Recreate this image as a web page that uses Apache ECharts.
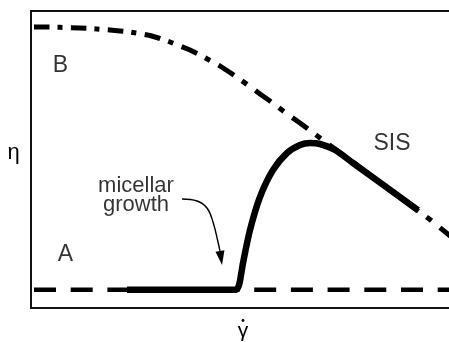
<!DOCTYPE html>
<html>
<head>
<meta charset="utf-8">
<script src="https://cdn.jsdelivr.net/npm/echarts@6.0.0/dist/echarts.min.js"></script>
<style>
  html, body { margin: 0; padding: 0; background: #fff; overflow: hidden; }
  #chart { width: 449px; height: 342px; }
</style>
</head>
<body>
<div id="chart"></div>
<script>
// Shear rate and viscosity in arbitrary units

// Curve B: shear-thinning viscosity
const curveBX = [0.71, 4.51, 6.89, 9.26, 11.64, 14.01, 16.39, 18.76, 21.14, 23.52, 25.89, 28.27, 30.64, 33.02, 35.39, 37.77, 40.14, 42.52, 44.89, 47.27, 49.64, 52.02, 54.39, 56.77, 59.14, 61.52, 63.90, 66.27, 68.65, 72.21, 75.77, 80.52, 85.27, 90.02, 94.77, 99.29, 100];
const curveBY = [94.61, 94.58, 94.51, 94.41, 94.28, 94.11, 93.87, 93.60, 93.30, 92.93, 92.42, 91.75, 90.74, 89.56, 88.22, 86.87, 85.19, 83.33, 81.48, 79.29, 76.94, 74.58, 72.05, 69.70, 67.17, 64.65, 62.29, 59.76, 57.24, 53.54, 49.83, 44.78, 39.73, 34.68, 29.80, 24.58, 23.74];

// Curve A: Newtonian baseline
const curveAX = [0.71, 100];
const curveAY = [6.16, 6.16];

// Shear-induced structure (SIS): micellar growth branch
const sisX = [22.80, 48.69, 49.41, 49.88, 50.36, 52.02, 54.39, 57.48, 60.81, 63.90, 66.27, 68.65, 72.21, 76.48, 91.92];
const sisY = [6.16, 6.16, 7.74, 11.11, 15.15, 26.26, 37.37, 46.46, 52.19, 54.88, 55.56, 55.22, 53.20, 48.82, 32.99];

// Annotation arrow path (last point is the tip)
const arrowX = [35.87, 39.43, 41.81, 43.23, 44.42, 44.89, 45.37];
const arrowY = [36.70, 36.03, 33.67, 28.96, 22.22, 19.19, 14.48];

// Text labels
const labelText = ['B', 'A', 'SIS', 'micellar\ngrowth'];
const labelX = [7.01, 8.19, 85.75, 24.94];
const labelY = [81.48, 17.85, 55.39, 37.95];
const labelSize = [23, 23, 23, 22];

// Axis extents
const X_MIN = 0, X_MAX = 100, Y_MIN = 0, Y_MAX = 100;

const pairs = (xs, ys) => xs.map((x, i) => [x, ys[i]]);
const FONT = '"Liberation Sans", Arial, Helvetica, sans-serif';
const bareAxis = () => ({
  axisLine: { show: false }, axisTick: { show: false },
  axisLabel: { show: false }, splitLine: { show: false }
});

// Dash-dot rhythm measured along the horizontal direction (px):
// a dash, then a short dot, repeating every DD_PERIOD
const DD_PERIOD = 36.9;
const DD_ON = [[0, 15.5], [23.5, 28.5]];

// Split a pixel polyline (sorted by x) into dash / dot pieces
function dashDotPieces(pts) {
  const x0 = pts[0][0];
  const xEnd = pts[pts.length - 1][0];
  const yAt = (x) => {
    for (let i = 0; i < pts.length - 1; i++) {
      const a = pts[i], b = pts[i + 1];
      if (x >= a[0] && x <= b[0]) {
        const t = (x - a[0]) / (b[0] - a[0] || 1);
        return a[1] + t * (b[1] - a[1]);
      }
    }
    return pts[pts.length - 1][1];
  };
  const pieces = [];
  for (let s = x0; s < xEnd; s += DD_PERIOD) {
    DD_ON.forEach(([a, b]) => {
      const xa = s + a;
      const xb = Math.min(s + b, xEnd);
      if (xa >= xEnd) return;
      const seg = [[xa, yAt(xa)]];
      pts.forEach((p) => { if (p[0] > xa && p[0] < xb) seg.push(p); });
      seg.push([xb, yAt(xb)]);
      pieces.push(seg);
    });
  }
  return pieces;
}

const chart = echarts.init(document.getElementById('chart'), null, { renderer: 'canvas' });

const frameStyle = { stroke: '#111', lineWidth: 2 };

const option = {
  animation: false,
  backgroundColor: '#fff',
  // plot area runs just past the right edge of the window
  grid: { left: 31, right: -3, top: 11, bottom: 34, show: false, outerBoundsMode: 'none' },
  xAxis: Object.assign({ type: 'value', min: X_MIN, max: X_MAX }, bareAxis()),
  yAxis: Object.assign({ type: 'value', min: Y_MIN, max: Y_MAX }, bareAxis()),
  graphic: [
    {
      type: 'text', x: 13.5, y: 153,
      style: { text: 'η', font: '22px ' + FONT, fill: '#000', align: 'center', verticalAlign: 'middle' }
    },
    {
      type: 'text', x: 243, y: 331,
      style: { text: 'γ', font: '21px ' + FONT, fill: '#000', align: 'center', verticalAlign: 'middle' }
    },
    {
      type: 'circle', shape: { cx: 243, cy: 320.5, r: 1.4 },
      style: { fill: '#000' }
    }
  ],
  series: [
    {
      // open frame: left, top and bottom edges of the plot
      name: 'frame', type: 'custom', data: [0], silent: true, z: 1, clip: false,
      renderItem: (params, api) => {
        const bl = api.coord([X_MIN, Y_MIN]);
        const tl = api.coord([X_MIN, Y_MAX]);
        const tr = api.coord([X_MAX, Y_MAX]);
        const br = api.coord([X_MAX, Y_MIN]);
        return {
          type: 'group',
          children: [
            { type: 'line', shape: { x1: tl[0], y1: tl[1] - 1, x2: bl[0], y2: bl[1] + 1 }, style: frameStyle },
            { type: 'line', shape: { x1: tl[0], y1: tl[1], x2: tr[0], y2: tr[1] }, style: frameStyle },
            { type: 'line', shape: { x1: bl[0], y1: bl[1], x2: br[0], y2: br[1] }, style: frameStyle }
          ]
        };
      }
    },
    {
      name: 'B', type: 'custom', data: [0], silent: true, z: 2, clip: false,
      renderItem: (params, api) => {
        const pts = curveBX.map((x, i) => api.coord([x, curveBY[i]]));
        return {
          type: 'group',
          children: dashDotPieces(pts).map((seg) => ({
            type: 'polyline',
            shape: { points: seg },
            style: { stroke: '#000', lineWidth: 5, lineCap: 'butt', lineJoin: 'round', fill: null }
          }))
        };
      }
    },
    {
      name: 'A', type: 'line', data: pairs(curveAX, curveAY),
      showSymbol: false, silent: true,
      lineStyle: { color: '#000', width: 4.5, type: [22, 14.7], cap: 'butt' },
      z: 2
    },
    {
      name: 'SIS', type: 'line', data: pairs(sisX, sisY),
      smooth: 0.3, showSymbol: false, silent: true,
      lineStyle: { color: '#000', width: 6.5, type: 'solid', cap: 'butt', join: 'round' },
      z: 3
    },
    {
      name: 'arrow', type: 'custom', data: [0], silent: true, z: 4,
      renderItem: (params, api) => {
        const pts = arrowX.map((x, i) => api.coord([x, arrowY[i]]));
        const tip = pts[pts.length - 1];
        const base = pts[pts.length - 2];
        const dx = tip[0] - base[0], dy = tip[1] - base[1];
        const len = Math.hypot(dx, dy);
        const nx = -dy / len, ny = dx / len;
        const hw = 4.5;
        return {
          type: 'group',
          children: [
            {
              type: 'polyline',
              shape: { points: pts.slice(0, -1), smooth: 0.4 },
              style: { stroke: '#000', lineWidth: 1.4, fill: null }
            },
            {
              type: 'polygon',
              shape: { points: [tip, [base[0] + nx * hw, base[1] + ny * hw], [base[0] - nx * hw, base[1] - ny * hw]] },
              style: { fill: '#000' }
            }
          ]
        };
      }
    },
    {
      name: 'labels', type: 'scatter', silent: true, z: 5,
      symbolSize: 0,
      data: labelText.map((t, i) => ({
        value: [labelX[i], labelY[i]],
        label: {
          show: true, position: 'inside', formatter: t,
          fontFamily: FONT, fontSize: labelSize[i], color: '#000',
          lineHeight: i === 3 ? 18.5 : labelSize[i], align: 'center'
        }
      }))
    }
  ]
};

chart.setOption(option);
</script>
</body>
</html>
